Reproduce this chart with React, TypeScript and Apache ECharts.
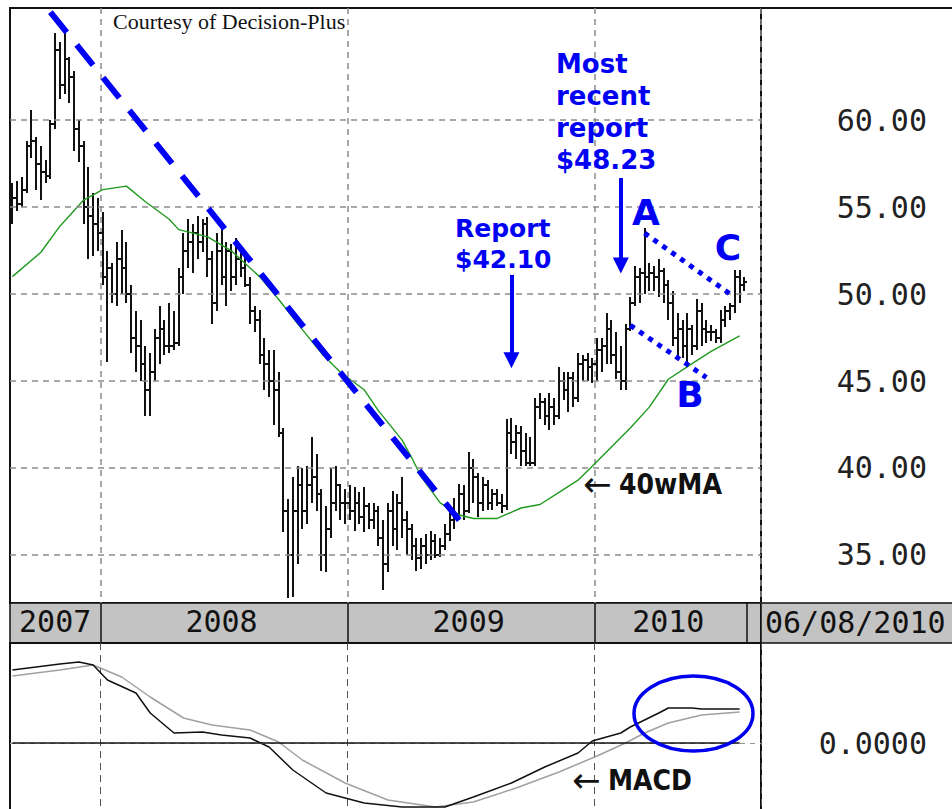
import React, { useEffect, useRef } from 'react';
import * as echarts from 'echarts';

// ---------- categories (weekly, Fridays) ----------
const FIRST_WEEK = '2007-08-24';
const WEEK_SLOTS = 158; // includes 3 empty weeks after the last bar
const weeks: string[] = Array.from({ length: WEEK_SLOTS }, (_, i) => {
  const d = new Date(Date.parse(FIRST_WEEK + 'T00:00:00Z') + i * 7 * 86400000);
  return d.toISOString().slice(0, 10);
});

// ---------- weekly OHLC ----------
const weekOpen = [
  54.5, 55.5, 55.2, 56.0, 58.5, 58.8, 57.5, 57.0, 56.8, 59.8,
  64.0, 62.0, 63.5, 62.5, 59.5, 58.5, 55.0, 54.5, 54.0, 53.5,
  51.0, 51.5, 50.0, 52.0, 51.5, 50.0, 47.5, 47.0, 46.0, 44.5,
  45.5, 47.5, 48.0, 47.0, 47.0, 47.2, 51.0, 52.5, 53.0, 53.5,
  53.0, 54.0, 52.0, 49.5, 52.5, 51.0, 52.5, 51.0, 52.0, 51.5,
  50.5, 49.0, 48.5, 46.5, 46.0, 45.0, 44.5, 42.0, 37.5, 35.0,
  37.5, 39.0, 37.5, 39.0, 39.5, 38.5, 35.0, 36.5, 38.0, 39.0,
  38.0, 38.0, 37.5, 38.0, 37.2, 37.8, 37.0, 37.5, 36.0, 34.5,
  37.5, 36.5, 38.0, 37.0, 36.5, 35.5, 34.8, 35.5, 35.0, 35.8,
  35.0, 35.5, 36.2, 37.0, 37.3, 38.5, 37.5, 40.0, 39.5, 38.0,
  39.0, 38.0, 38.5, 38.0, 37.8, 42.0, 41.5, 42.0, 41.0, 40.3,
  40.3, 43.5, 43.8, 43.0, 43.5, 43.0, 45.0, 44.5, 45.2, 44.0,
  46.0, 46.2, 45.8, 46.0, 46.8, 47.0, 48.0, 46.5, 45.5, 45.0,
  48.0, 49.5, 51.0, 51.2, 51.0, 51.2, 51.0, 51.3, 50.5, 49.5,
  47.5, 48.0, 47.0, 48.0, 47.0, 49.0, 48.0, 47.8, 47.8, 47.5,
  48.5, 49.0, 49.3, 51.0, 50.5,
];
const weekHigh = [
  56.4, 56.5, 56.7, 58.8, 60.6, 59.0, 58.5, 57.7, 60.0, 65.0,
  64.5, 65.0, 63.6, 62.8, 60.0, 58.8, 57.3, 55.8, 55.5, 54.7,
  52.5, 51.8, 53.0, 53.7, 53.0, 50.5, 49.0, 48.5, 47.0, 46.6,
  48.0, 49.3, 48.5, 49.5, 49.0, 51.5, 53.5, 54.3, 54.0, 54.5,
  54.3, 54.4, 52.5, 53.5, 53.8, 53.0, 52.9, 53.2, 52.5, 52.2,
  51.0, 49.3, 49.1, 47.5, 46.8, 46.8, 45.5, 42.3, 38.2, 39.5,
  40.1, 40.0, 40.1, 41.8, 40.8, 38.8, 37.8, 40.0, 40.1, 39.1,
  38.8, 39.0, 38.9, 38.6, 38.9, 38.0, 38.0, 37.8, 37.0, 38.0,
  38.7, 38.5, 39.5, 37.5, 36.8, 36.0, 36.0, 36.2, 36.4, 36.2,
  36.0, 36.8, 37.5, 38.3, 39.1, 39.0, 40.9, 40.5, 39.7, 39.5,
  39.3, 38.8, 38.8, 38.5, 42.8, 42.9, 42.5, 42.4, 42.0, 41.8,
  44.0, 44.3, 44.0, 44.3, 44.0, 45.8, 45.5, 45.5, 45.5, 46.6,
  46.5, 46.6, 46.3, 47.5, 47.5, 48.9, 48.5, 47.8, 47.0, 48.3,
  49.8, 51.6, 51.5, 53.8, 51.8, 51.6, 52.0, 51.5, 50.8, 50.2,
  48.9, 48.5, 48.9, 48.2, 49.7, 49.5, 48.5, 48.2, 48.0, 49.1,
  49.3, 49.5, 51.4, 51.4, 51.0,
];
const weekLow = [
  54.0, 54.8, 55.0, 55.8, 57.8, 56.0, 55.4, 56.4, 56.6, 59.5,
  61.2, 61.5, 61.0, 58.2, 57.6, 54.0, 52.0, 52.2, 52.5, 50.5,
  46.1, 49.5, 49.3, 50.0, 49.5, 46.6, 45.5, 45.0, 43.0, 43.0,
  45.0, 46.0, 46.5, 46.6, 46.8, 47.0, 50.0, 51.5, 51.2, 52.0,
  52.4, 51.0, 48.3, 49.0, 50.5, 49.3, 50.2, 50.5, 51.0, 50.4,
  48.3, 47.8, 46.0, 44.5, 44.1, 42.5, 41.8, 36.3, 32.5, 32.6,
  34.5, 36.5, 36.8, 38.0, 37.5, 34.1, 34.0, 36.0, 37.5, 37.0,
  36.8, 37.0, 36.4, 36.8, 36.3, 36.5, 36.5, 35.5, 33.0, 34.0,
  35.5, 35.3, 36.0, 35.0, 34.7, 34.1, 34.2, 34.5, 34.7, 34.8,
  34.9, 35.3, 35.8, 36.5, 37.0, 37.0, 37.4, 38.0, 37.2, 37.5,
  37.6, 37.6, 37.8, 37.4, 37.6, 40.8, 40.5, 40.1, 40.1, 40.1,
  40.1, 42.8, 42.5, 42.2, 42.5, 42.8, 43.9, 43.2, 43.5, 43.8,
  45.0, 45.0, 44.9, 45.0, 45.5, 46.0, 46.0, 45.1, 44.5, 44.5,
  47.9, 49.3, 49.5, 50.0, 50.2, 50.2, 49.8, 49.5, 48.5, 47.0,
  46.2, 46.3, 45.8, 46.5, 46.8, 47.0, 47.2, 47.3, 47.2, 47.2,
  48.1, 48.5, 48.9, 49.5, 50.2,
];
const weekClose = [
  55.5, 55.2, 56.0, 58.5, 58.8, 57.5, 57.0, 56.8, 59.8, 64.0,
  62.0, 63.5, 62.5, 59.5, 58.5, 55.0, 54.5, 54.0, 53.5, 51.0,
  51.5, 50.0, 52.0, 51.5, 50.0, 47.5, 47.0, 46.0, 44.5, 45.5,
  47.5, 48.0, 47.0, 47.0, 47.2, 51.0, 52.5, 53.0, 53.5, 53.0,
  54.0, 52.0, 49.5, 52.5, 51.0, 52.5, 51.0, 52.0, 51.5, 50.5,
  49.0, 48.5, 46.5, 46.0, 45.0, 44.5, 42.0, 37.5, 35.0, 37.5,
  39.0, 37.5, 39.0, 39.5, 38.5, 35.0, 36.5, 38.0, 39.0, 38.0,
  38.0, 37.5, 38.0, 37.2, 37.8, 37.0, 37.5, 36.0, 34.5, 37.5,
  36.5, 38.0, 37.0, 36.5, 35.5, 34.8, 35.5, 35.0, 35.8, 35.0,
  35.5, 36.2, 37.0, 37.3, 38.5, 37.5, 40.0, 39.5, 38.0, 39.0,
  38.0, 38.5, 38.0, 37.8, 42.0, 41.5, 42.0, 41.0, 40.3, 40.3,
  43.5, 43.8, 43.0, 43.5, 43.0, 45.0, 44.5, 45.2, 44.0, 46.0,
  46.2, 45.8, 46.0, 46.8, 47.0, 48.0, 46.5, 45.5, 45.0, 48.0,
  49.5, 51.0, 51.2, 51.0, 51.2, 51.0, 51.3, 50.5, 49.5, 47.5,
  48.0, 47.0, 48.0, 47.0, 49.0, 48.0, 47.8, 47.8, 47.5, 48.5,
  49.0, 49.3, 51.0, 50.5, 50.7,
];

// ---------- 40-week moving average (read at sample weeks) ----------
const ma40Weeks = [0, 6, 10, 15, 19, 24, 28, 33, 35, 41, 46, 52, 56, 60, 65, 69, 74, 77, 82, 84, 86, 90, 94, 97, 102, 107, 111, 115, 119, 122, 130, 134, 138, 143, 147, 153];
const ma40Values = [51.0, 52.4, 53.9, 55.4, 56.0, 56.2, 55.3, 54.3, 53.7, 53.3, 52.5, 51.0, 49.7, 48.3, 46.6, 45.5, 44.5, 43.3, 41.6, 40.6, 39.5, 38.0, 37.3, 37.1, 37.1, 37.7, 37.9, 38.6, 39.3, 40.1, 42.3, 43.5, 45.1, 46.0, 46.7, 47.6];

// ---------- MACD panel ----------
const macdWeeks = [0, 10, 14, 17, 20, 26, 29, 34, 40, 44, 50, 54, 59, 66, 74, 82, 91, 97, 105, 112, 119, 122, 128, 130, 136, 138, 143, 145, 153];
const macdValues = [3.65, 3.95, 4.05, 3.9, 3.15, 2.5, 1.5, 0.5, 0.55, 0.4, 0.25, -0.2, -1.35, -2.5, -3.0, -3.2, -3.2, -2.7, -2.0, -1.2, -0.5, 0.1, 0.5, 0.8, 1.5, 1.75, 1.75, 1.7, 1.7];
const signalWeeks = [0, 10, 17, 23, 29, 36, 42, 50, 56, 61, 70, 79, 89, 97, 106, 115, 123, 129, 133, 138, 145, 153];
const signalValues = [3.35, 3.65, 3.9, 3.3, 2.3, 1.25, 0.9, 0.65, 0.05, -0.85, -2.0, -2.85, -3.2, -2.95, -2.25, -1.45, -0.65, 0.0, 0.5, 1.0, 1.4, 1.55];

// ---------- axis ticks ----------
const priceTicks = [35, 40, 45, 50, 55, 60];
const macdTicks = [0];

// ---------- annotations (data coordinates: [week index, price]) ----------
const trendLine = [[8, 66.2], [94, 37.0]];
const lineAC = [[133, 53.5], [151, 50.0]];
const lineB = [[130, 48.2], [146, 45.2]];
const reportArrow = [[105, 51.1], [105, 46.2]];
const recentArrow = [[128, 56.67], [128, 51.64]];

const MONO = "'DejaVu Sans Mono', 'Liberation Mono', monospace";
const SANS = "'DejaVu Sans', Verdana, sans-serif";
const COND = "'DejaVu Sans Condensed', 'DejaVu Sans', sans-serif";
const BLUE = '#0000f5';

const lastDataIdx = weekClose.length - 1;
const yearOf = (i: number) => weeks[i].slice(0, 4);
const isYearStart = (i: number) => i > 0 && i <= lastDataIdx && yearOf(i) !== yearOf(i - 1);

function yearLabelIndices(): Set<number> {
  const ranges: Record<string, [number, number]> = {};
  for (let i = 0; i <= lastDataIdx; i++) {
    const y = yearOf(i);
    if (!ranges[y]) ranges[y] = [i, i];
    ranges[y][1] = i;
  }
  const s = new Set<number>();
  Object.values(ranges).forEach(([a, b]) => s.add(Math.floor((a + b) / 2)));
  return s;
}

const txt = (text: string, x: number, y: number, extra: any, z = 11) => ({
  type: 'text', x, y, z,
  style: { text, align: 'left', verticalAlign: 'middle', textAlign: 'left', textVerticalAlign: 'middle', ...extra },
});

export default function App() {
  const ref = useRef<HTMLDivElement>(null);

  useEffect(() => {
    document.body.style.margin = '0';
    if (!ref.current) return;
    const chart = echarts.init(ref.current, null, { renderer: 'svg' });

    const labelSet = yearLabelIndices();
    const ohlc = weekOpen.map((o, i) => [i, o, weekClose[i], weekLow[i], weekHigh[i]]);
    const lastDate = weeks[lastDataIdx].split('-').reverse().join('/');

    const markSeg = (pts: number[][], lineStyle: any, arrow = false) => [
      { coord: pts[0], lineStyle },
      arrow ? { coord: pts[1], symbol: 'triangle', symbolSize: 16 } : { coord: pts[1] },
    ];

    const option: any = {
      animation: false,
      backgroundColor: '#ffffff',
      grid: [
        { left: 10, top: 8, width: 751, height: 595, show: true, borderColor: '#111', borderWidth: 2, backgroundColor: 'transparent', outerBoundsMode: 'none', containLabel: false },
        { left: 10, top: 603, width: 751, height: 40, show: true, borderColor: '#111', borderWidth: 1.5, backgroundColor: '#c3c3c3', outerBoundsMode: 'none', containLabel: false },
        { left: 10, top: 643, width: 751, height: 170, show: true, borderColor: '#111', borderWidth: 2, backgroundColor: 'transparent', outerBoundsMode: 'none', containLabel: false },
      ],
      xAxis: [
        {
          gridIndex: 0, type: 'category', data: weeks, boundaryGap: true,
          axisLine: { show: false }, axisTick: { show: false }, axisLabel: { show: false },
          splitLine: { show: true, interval: (i: number) => isYearStart(i), lineStyle: { color: '#8c8c8c', type: [6, 5], width: 1.5 } },
        },
        {
          gridIndex: 1, type: 'category', data: weeks, boundaryGap: true,
          axisLine: { show: false }, axisTick: { show: false },
          axisLabel: {
            show: true, inside: true, margin: 22, verticalAlign: 'middle',
            interval: (i: number) => labelSet.has(i),
            formatter: (v: string) => v.slice(0, 4),
            fontFamily: MONO, fontSize: 30, color: '#111',
          },
          splitLine: { show: true, interval: (i: number) => isYearStart(i) || i === lastDataIdx + 1, lineStyle: { color: '#111', width: 1.5 } },
        },
        {
          gridIndex: 2, type: 'category', data: weeks, boundaryGap: true,
          axisLine: { show: false }, axisTick: { show: false }, axisLabel: { show: false },
          splitLine: { show: true, interval: (i: number) => isYearStart(i), lineStyle: { color: '#555', type: [7, 5], width: 1 } },
        },
      ],
      yAxis: [
        {
          gridIndex: 0, type: 'value', position: 'right', min: 32.24, max: 66.44, splitNumber: 6,
          axisLine: { show: false }, axisTick: { show: false }, splitLine: { show: false },
          axisLabel: {
            align: 'right', margin: 166, fontFamily: MONO, fontSize: 30, color: '#222',
            formatter: (v: number) => (priceTicks.some((t) => Math.abs(t - v) < 1e-6) ? v.toFixed(2) : ''),
          },
        },
        { gridIndex: 1, type: 'value', min: 0, max: 1, show: false },
        {
          gridIndex: 2, type: 'value', position: 'right', min: -3.5, max: 5,
          axisLine: { show: false }, axisTick: { show: false }, splitLine: { show: false },
          axisLabel: {
            align: 'right', margin: 166, fontFamily: MONO, fontSize: 30, color: '#222',
            formatter: (v: number) => (macdTicks.some((t) => Math.abs(t - v) < 1e-9) ? v.toFixed(4) : ''),
          },
        },
      ],
      series: [
        {
          name: 'priceGrid', type: 'line', xAxisIndex: 0, yAxisIndex: 0, data: [], z: 1, silent: true,
          markLine: {
            silent: true, symbol: ['none', 'none'], label: { show: false },
            lineStyle: { color: '#8c8c8c', type: [6, 5], width: 1.5 },
            data: priceTicks.map((v) => ({ yAxis: v })),
          },
        },
        {
          name: 'OHLC', type: 'custom', xAxisIndex: 0, yAxisIndex: 0, z: 3,
          encode: { x: 0, y: [1, 2, 3, 4] },
          data: ohlc,
          renderItem: (_params: any, api: any) => {
            const idx = api.value(0);
            const o = api.coord([idx, api.value(1)]);
            const c = api.coord([idx, api.value(2)]);
            const l = api.coord([idx, api.value(3)]);
            const h = api.coord([idx, api.value(4)]);
            const bw = api.size([1, 0])[0];
            const t = Math.round(bw * 0.55);
            const x = Math.round(h[0]);
            const oy = Math.round(o[1]);
            const cy = Math.round(c[1]);
            const style = { stroke: '#111', lineWidth: 2 };
            return {
              type: 'group',
              children: [
                { type: 'line', shape: { x1: x, y1: Math.round(h[1]), x2: x, y2: Math.round(l[1]) }, style },
                { type: 'line', shape: { x1: x - t, y1: oy, x2: x, y2: oy }, style },
                { type: 'line', shape: { x1: x, y1: cy, x2: x + t, y2: cy }, style },
              ],
            };
          },
        },
        {
          name: '40wMA', type: 'line', xAxisIndex: 0, yAxisIndex: 0, z: 4,
          data: ma40Weeks.map((w, i) => [w, ma40Values[i]]),
          showSymbol: false, symbol: 'none', smooth: false,
          lineStyle: { color: '#1f9a1f', width: 1.4 },
        },
        {
          name: 'annotations', type: 'line', xAxisIndex: 0, yAxisIndex: 0, data: [], z: 6, silent: true,
          markLine: {
            silent: true, symbol: ['none', 'none'], label: { show: false },
            data: [
              markSeg(trendLine, { color: BLUE, width: 6, type: [26, 16] }),
              markSeg(lineAC, { color: BLUE, width: 5, type: [5, 6] }),
              markSeg(lineB, { color: BLUE, width: 5, type: [5, 6] }),
              markSeg(reportArrow, { color: BLUE, width: 4, type: 'solid' }, true),
              markSeg(recentArrow, { color: BLUE, width: 4, type: 'solid' }, true),
            ],
          },
        },
        {
          name: 'macdZero', type: 'line', xAxisIndex: 2, yAxisIndex: 2, data: [], z: 1, silent: true,
          markLine: {
            silent: true, symbol: ['none', 'none'], label: { show: false },
            data: [
              { yAxis: 0, lineStyle: { color: '#999', type: [5, 5], width: 1.2 } },
              [{ coord: [0, 0], lineStyle: { color: '#111', type: 'solid', width: 1.6 } }, { coord: [lastDataIdx - 1, 0] }],
            ],
          },
        },
        {
          name: 'Signal', type: 'line', xAxisIndex: 2, yAxisIndex: 2, z: 3,
          data: signalWeeks.map((w, i) => [w, signalValues[i]]),
          showSymbol: false, symbol: 'none', lineStyle: { color: '#a0a0a0', width: 1.5 },
        },
        {
          name: 'MACD', type: 'line', xAxisIndex: 2, yAxisIndex: 2, z: 4,
          data: macdWeeks.map((w, i) => [w, macdValues[i]]),
          showSymbol: false, symbol: 'none', lineStyle: { color: '#111', width: 1.5 },
        },
      ],
      graphic: [
        { type: 'line', shape: { x1: 761, y1: 8, x2: 952, y2: 8 }, style: { stroke: '#111', lineWidth: 2 }, z: 10 },
        { type: 'rect', shape: { x: 761, y: 603, width: 200, height: 40 }, style: { fill: '#c3c3c3', stroke: '#111', lineWidth: 1.5 }, z: 10 },
        txt(lastDate, 765, 622, { fontFamily: MONO, fontSize: 30, fill: '#111' }),
        txt('Courtesy of Decision-Plus', 113, 21, { fontFamily: "'Liberation Serif', 'Times New Roman', serif", fontSize: 22, fill: '#111' }),
        ...['Most', 'recent', 'report', '$48.23'].map((t, k) =>
          txt(t, 556, 64 + k * 32, { fontFamily: SANS, fontWeight: 'bold', fontSize: 26, fill: BLUE })),
        ...['Report', '$42.10'].map((t, k) =>
          txt(t, 455, 228 + k * 31, { fontFamily: SANS, fontWeight: 'bold', fontSize: 25, fill: BLUE })),
        ...([['A', 646, 212], ['B', 690, 394], ['C', 728, 247]] as [string, number, number][]).map(([t, x, y]) =>
          txt(t, x, y, { fontFamily: SANS, fontWeight: 'bold', fontSize: 36, fill: BLUE, align: 'center', textAlign: 'center' })),
        txt('\u2190', 583, 484, { fontFamily: SANS, fontSize: 34, fill: '#111' }),
        txt('40wMA', 619, 484, { fontFamily: COND, fontWeight: 'bold', fontSize: 28, fill: '#111' }),
        txt('\u2190', 572, 780, { fontFamily: SANS, fontSize: 34, fill: '#111' }),
        txt('MACD', 608, 780, { fontFamily: COND, fontWeight: 'bold', fontSize: 28, fill: '#111' }),
        { type: 'ellipse', shape: { cx: 693.5, cy: 713.5, rx: 59.5, ry: 37.5 }, style: { fill: 'none', stroke: '#0000ee', lineWidth: 3.5 }, z: 12 },
      ],
    };

    chart.setOption(option);
    return () => chart.dispose();
  }, []);

  return <div ref={ref} style={{ width: '952px', height: '809px' }} />;
}
